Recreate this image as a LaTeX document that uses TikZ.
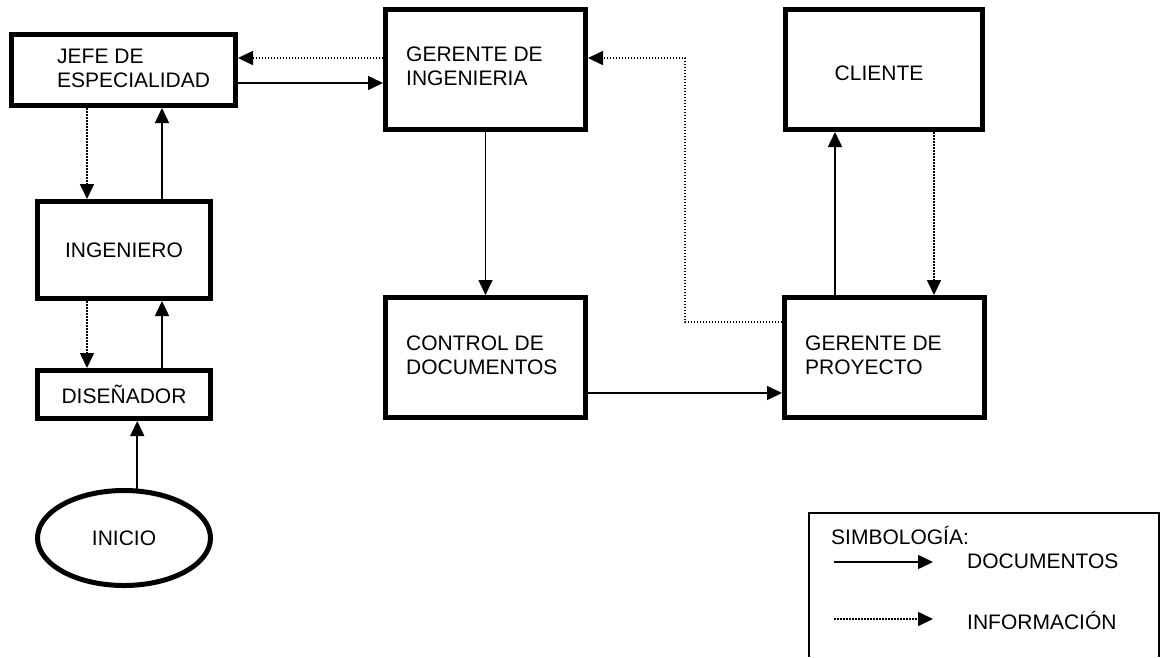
\documentclass[tikz,border=0pt]{standalone}
\usepackage{fontspec}
\setmainfont{Liberation Sans}
\usetikzlibrary{arrows.meta,shapes.geometric}

\begin{document}
\begin{tikzpicture}[x=1pt,y=-1pt,
  box/.style={draw,line width=5pt,rectangle,inner sep=0pt},
  oval/.style={draw,line width=5pt,ellipse,inner sep=0pt},
  txt/.style={font=\fontsize{21}{24}\selectfont,align=left,inner sep=0pt},
  doc/.style={line width=1.5pt,-{Triangle[length=15pt,width=14pt]}},
  info/.style={line width=1.6pt,dash pattern=on 1.5pt off 1.5pt,-{Triangle[length=15pt,width=14pt]}},
  legend/.style={line width=1.5pt}]
\useasboundingbox (0,0) rectangle (1160,657);

% boxes
\node[box,minimum width=224pt,minimum height=71pt] (jefe) at (123.5,70) {};
\node[txt,anchor=west] (jefe-t) at (57,68) {JEFE DE\\ESPECIALIDAD};
\node[box,txt,minimum width=173pt,minimum height=97pt] (ing) at (124,250) {INGENIERO};
\node[box,txt,minimum width=173pt,minimum height=48pt] (dis) at (124,394.5) {DISEÑADOR};
\node[oval,txt,minimum width=173pt,minimum height=95pt] (ini) at (124,538) {INICIO};
\node[box,minimum width=200pt,minimum height=120pt] (gi) at (485.5,69.5) {};
\node[txt,anchor=west] (gi-t) at (406,66.5) {GERENTE DE\\INGENIERIA};
\node[box,minimum width=200pt,minimum height=120pt] (cd) at (485.5,357.5) {};
\node[txt,anchor=west] (cd-t) at (406,355) {CONTROL DE\\DOCUMENTOS};
\node[box,minimum width=197pt,minimum height=120pt] (cli) at (884,69.5) {};
\node[txt] (cli-t) at (879,73) {CLIENTE};
\node[box,minimum width=200pt,minimum height=120pt] (gp) at (884.5,357.5) {};
\node[txt,anchor=west] (gp-t) at (805,355) {GERENTE DE\\PROYECTO};

% reference lines for the connectors
\coordinate (xa) at (87,0);
\coordinate (xb) at (162,0);
\coordinate (xd) at (835,0);
\coordinate (xe) at (934,0);
\coordinate (xf) at (685,0);
\coordinate (ya) at (0,58);
\coordinate (yb) at (0,83);
\coordinate (yc) at (0,393);
\coordinate (yd) at (0,322);

% connectors
\draw[info] (gi.west |- ya) -- (jefe.east |- ya);
\draw[doc] (jefe.east |- yb) -- (gi.west |- yb);
\draw[info] (jefe.south -| xa) -- (ing.north -| xa);
\draw[doc] (ing.north -| xb) -- (jefe.south -| xb);
\draw[info] (ing.south -| xa) -- (dis.north -| xa);
\draw[doc] (dis.north -| xb) -- (ing.south -| xb);
\draw[doc] (ini.75.7) -- (dis.south -| ini.75.7);
\draw[doc] (gi.south) -- (cd.north);
\draw[doc] (cd.east |- yc) -- (gp.west |- yc);
\draw[doc] (gp.north -| xd) -- (cli.south -| xd);
\draw[info] (cli.south -| xe) -- (gp.north -| xe);
\draw[info] (gp.west |- yd) -| (xf |- ya) -- (gi.east |- ya);

% legend
\draw[legend] (809,657) -- (809,513) -- (1159,513) -- (1159,657);
\node[txt,anchor=base west] (leg-t) at (831,544.5) {SIMBOLOGÍA:};
\coordinate (d1) at (834,562);
\coordinate (d2) at (933,562);
\coordinate (i1) at (834,619);
\coordinate (i2) at (933,619);
\draw[doc] (d1) -- (d2);
\draw[info] (i1) -- (i2);
\node[txt,anchor=base west] (leg-d) at (967,568.5) {DOCUMENTOS};
\node[txt,anchor=base west] (leg-i) at (967,629.5) {INFORMACIÓN};
\end{tikzpicture}
\end{document}
